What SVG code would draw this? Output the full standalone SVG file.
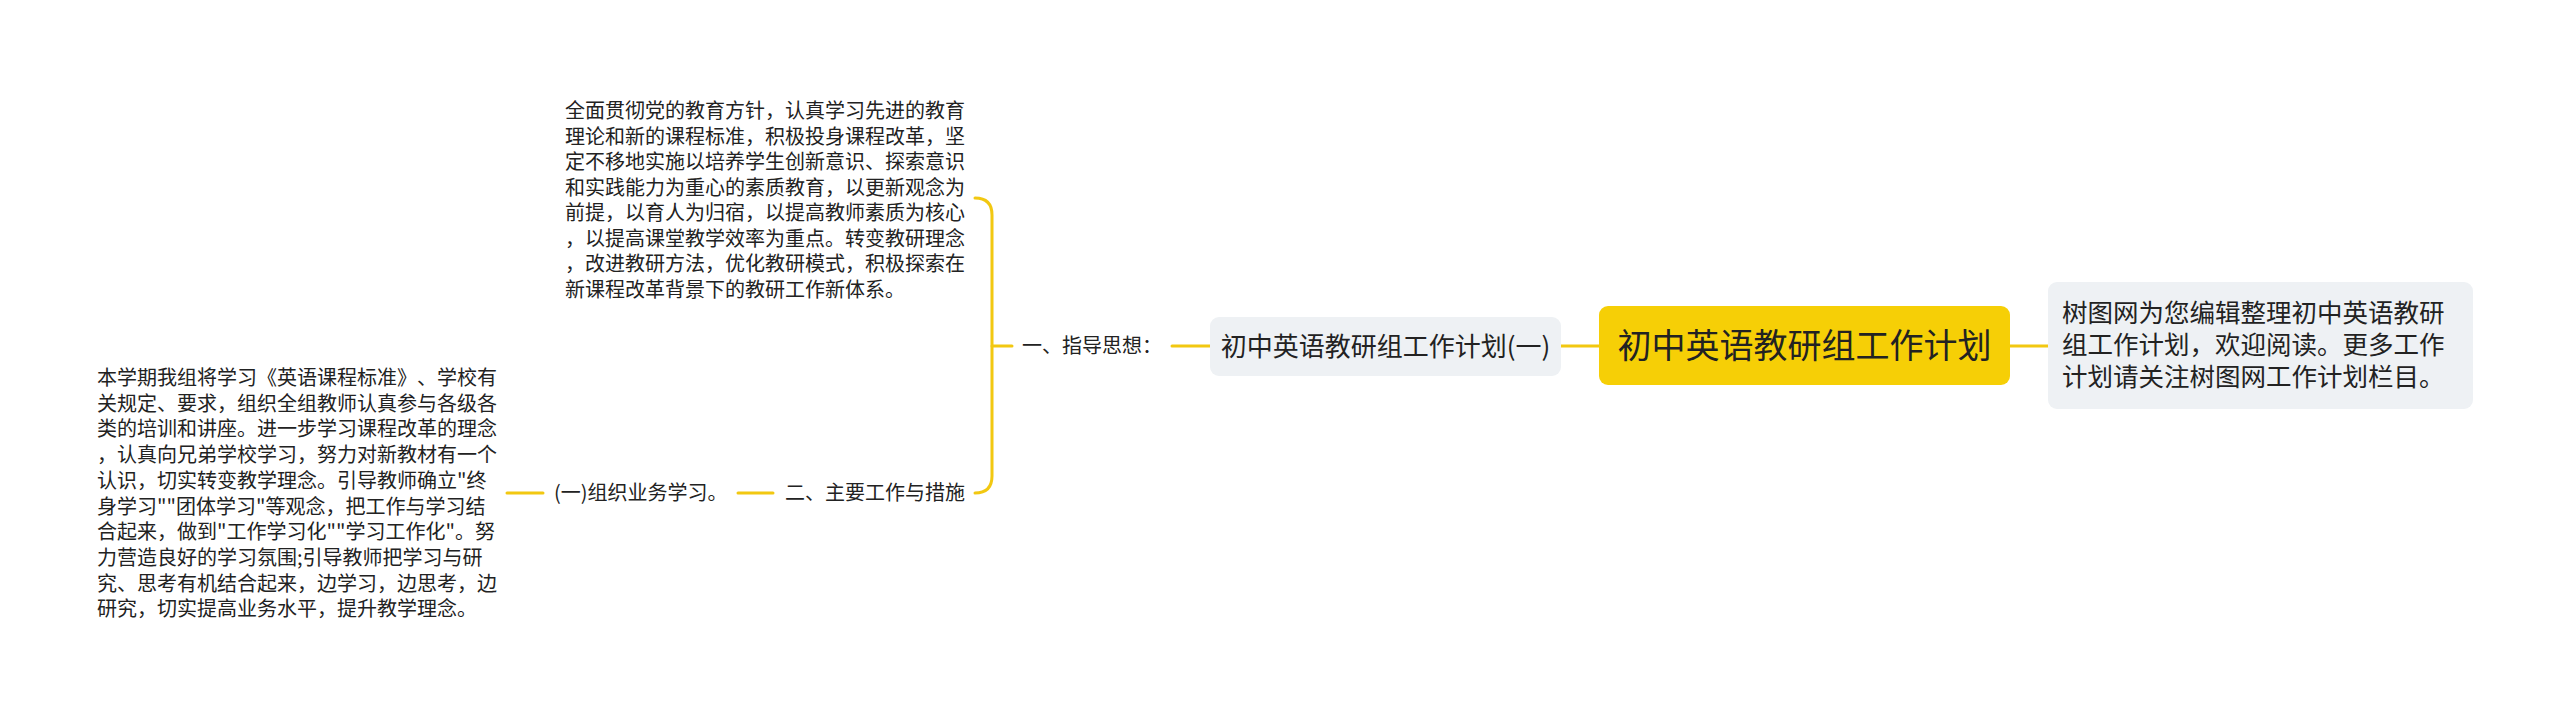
<svg xmlns="http://www.w3.org/2000/svg" width="2560" height="718" viewBox="0 0 2560 718">
<style>
text{font-family:"Noto Sans CJK SC","Noto Sans",sans-serif;fill:#222}
.c{fill:none;stroke:#F2C811;stroke-width:3;stroke-linecap:round}
.t20{font-size:20px}
.grey{fill:#EEF1F4}
</style>
<rect width="2560" height="718" fill="#ffffff"/>
<g id="connectors">
<path class="c" d="M1599 346H1561"/>
<path class="c" d="M2010 346H2048"/>
<path class="c" d="M1210 346H1172"/>
<path class="c" d="M1012 346H992"/>
<path class="c" d="M975 198Q992 198 992 215V476Q992 493 975 493"/>
<path class="c" d="M773 493H738"/>
<path class="c" d="M543 493H507"/>
</g>
<g id="root">
<rect x="1599" y="306" width="411" height="79" rx="9" fill="#F6CF06"/>
<text x="1804.5" y="358" font-size="34" text-anchor="middle">初中英语教研组工作计划</text>
</g>
<g id="intro">
<rect class="grey" x="2048" y="282" width="425" height="127" rx="9"/>
<text font-size="25.5"><tspan x="2062" y="322">树图网为您编辑整理初中英语教研</tspan><tspan x="2062" y="354">组工作计划，欢迎阅读。更多工作</tspan><tspan x="2062" y="386">计划请关注树图网工作计划栏目。</tspan></text>
</g>
<g id="plan1">
<rect class="grey" x="1210" y="317" width="351" height="59" rx="9"/>
<text x="1385.5" y="355.5" font-size="26" text-anchor="middle">初中英语教研组工作计划(一)</text>
</g>
<g id="guide">
<text class="t20" x="1022" y="353">一、指导思想：</text>
</g>
<g id="guide-text">
<text class="t20"><tspan x="565" y="118">全面贯彻党的教育方针，认真学习先进的教育</tspan><tspan x="565" y="143.5">理论和新的课程标准，积极投身课程改革，坚</tspan><tspan x="565" y="169">定不移地实施以培养学生创新意识、探索意识</tspan><tspan x="565" y="194.5">和实践能力为重心的素质教育，以更新观念为</tspan><tspan x="565" y="220">前提，以育人为归宿，以提高教师素质为核心</tspan><tspan x="565" y="245.5">，以提高课堂教学效率为重点。转变教研理念</tspan><tspan x="565" y="271">，改进教研方法，优化教研模式，积极探索在</tspan><tspan x="565" y="296.5">新课程改革背景下的教研工作新体系。</tspan></text>
</g>
<g id="work">
<text class="t20" x="785" y="500">二、主要工作与措施</text>
</g>
<g id="study">
<text class="t20" x="554" y="500">(一)组织业务学习。</text>
</g>
<g id="study-text">
<text class="t20" x="97 117 137 157 177 197 217 237 257 277 297 317 337 357 377 397 417 437 457 477" y="385">本学期我组将学习《英语课程标准》、学校有</text>
<text class="t20"><tspan x="97" y="410.7">关规定、要求，组织全组教师认真参与各级各</tspan><tspan x="97" y="436.4">类的培训和讲座。进一步学习课程改革的理念</tspan><tspan x="97" y="462.1">，认真向兄弟学校学习，努力对新教材有一个</tspan><tspan x="97" y="487.8">认识，切实转变教学理念。引导教师确立"终</tspan><tspan x="97" y="513.5">身学习""团体学习"等观念，把工作与学习结</tspan><tspan x="97" y="539.2">合起来，做到"工作学习化""学习工作化"。努</tspan><tspan x="97" y="564.9">力营造良好的学习氛围;引导教师把学习与研</tspan><tspan x="97" y="590.6">究、思考有机结合起来，边学习，边思考，边</tspan><tspan x="97" y="616.3">研究，切实提高业务水平，提升教学理念。</tspan></text>
</g>
</svg>
